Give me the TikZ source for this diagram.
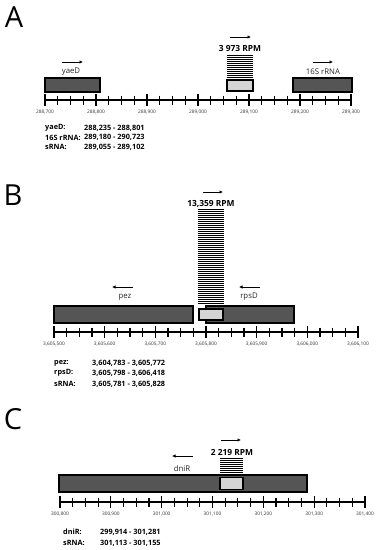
\documentclass[tikz,border=0pt]{standalone}
\usepackage{fontspec}
\setmainfont{Open Sans}
\usetikzlibrary{arrows.meta}
\definecolor{gene}{HTML}{555555}
\definecolor{srna}{HTML}{D4D4D4}
\tikzset{
  genebox/.style={draw=black,line width=1.2pt,fill=gene,inner sep=0pt},
  srnabox/.style={draw=black,line width=1.2pt,fill=srna,inner sep=0pt},
  strand/.style={-{Latex[length=3.5pt,width=3.5pt]},line width=0.9pt},
  genelabel/.style={font=\fontsize{7.8}{8}\selectfont,text=black!85,inner sep=0pt},
  rpm/.style={font=\fontsize{8.4}{9}\selectfont\bfseries,inner sep=0pt},
  ticklabel/.style={font=\fontsize{4.8}{5}\selectfont,text=black!80,inner sep=0pt},
  tabtext/.style={font=\fontsize{7.3}{8}\selectfont\bfseries,inner sep=0pt,anchor=west},
  panel/.style={font=\fontsize{29}{30}\selectfont,inner sep=0pt}
}
\newcommand{\drawaxis}[4]{% x0, x1, y, labels
  \draw[line width=2.6pt] (#1,#3) -- (#2,#3);
  \foreach \i in {0,...,24}{
    \pgfmathsetmacro{\xx}{#1+\i*(#2-#1)/24}
    \pgfmathtruncatemacro{\mj}{mod(\i,4)==0}
    \ifnum\mj=1
      \draw[line width=1.1pt] (\xx,#3-6) -- (\xx,#3+6);
    \else
      \draw[line width=1.1pt] (\xx,#3-4.5) -- (\xx,#3+4.5);
    \fi
  }
  \foreach \lab [count=\k from 0] in {#4}{
    \pgfmathsetmacro{\xl}{#1+\k*(#2-#1)/6}
    \node[ticklabel] at (\xl,#3+12) {\lab};
  }
}
\newcommand{\stripes}[4]{% x0,x1,ytop,ybottom
  \pgfmathtruncatemacro{\nstr}{(#4-#3)/2}
  \foreach \j in {0,...,\nstr}{
    \draw[line width=0.9pt] (#1,#3+2*\j) -- (#2,#3+2*\j);
  }
}
\begin{document}
\begin{tikzpicture}[x=1pt,y=-1pt]
\useasboundingbox (0,0) rectangle (378,550);
\fill[white] (0,0) rectangle (378,550);

% ---------------- Panel A ----------------
\node[panel] (pA) at (14,17) {A};
\stripes{227}{253}{55}{77}
\node[genebox,minimum width=55pt,minimum height=14pt] (yaeD) at (72.5,85) {};
\node[genebox,minimum width=59pt,minimum height=14pt] (rrna) at (322.5,85) {};
\node[srnabox,minimum width=26pt,minimum height=11pt] (sA) at (240,85.5) {};
\drawaxis{45}{351}{100}{288{,}700,288{,}800,288{,}900,289{,}000,289{,}100,289{,}200,289{,}300}
\node[genelabel] (lyaeD) at (71,72) {yaeD};
\node[genelabel] (lrrna) at (323,72) {16S rRNA};
\coordinate (ayaeD1) at (62,62); \coordinate (ayaeD2) at (83,62);
\draw[strand] (ayaeD1) -- (ayaeD2);
\coordinate (arr1) at (313,62); \coordinate (arr2) at (333,62);
\draw[strand] (arr1) -- (arr2);
\node[rpm] (rpmA) at (240,48) {3 973 RPM};
\coordinate (asA1) at (230,37); \coordinate (asA2) at (251,37);
\draw[strand] (asA1) -- (asA2);
\node[tabtext] (tA1) at (45,128) {yaeD:};
\node[tabtext] (tA2) at (45,137.5) {16S rRNA:};
\node[tabtext] (tA3) at (45,147) {sRNA:};
\node[tabtext] (vA1) at (84,128) {288,235 - 288,801};
\node[tabtext] (vA2) at (84,137.5) {289,180 - 290,723};
\node[tabtext] (vA3) at (84,147) {289,055 - 289,102};

% ---------------- Panel B ----------------
\node[panel] (pB) at (13,195) {B};
\stripes{198}{224}{209}{303}
\node[genebox,minimum width=139pt,minimum height=17pt] (pez) at (123.5,314.5) {};
\node[genebox,minimum width=88pt,minimum height=17pt] (rpsD) at (250,314.5) {};
\node[srnabox,minimum width=24pt,minimum height=11pt] (sB) at (211,314.5) {};
\drawaxis{54}{358}{332}{3{,}605{,}500,3{,}605{,}600,3{,}605{,}700,3{,}605{,}800,3{,}605{,}900,3{,}606{,}000,3{,}606{,}100}
\node[genelabel] (lpez) at (125,297) {pez};
\node[genelabel] (lrpsD) at (249,297) {rpsD};
\coordinate (apez1) at (133,287); \coordinate (apez2) at (112,287);
\draw[strand] (apez1) -- (apez2);
\coordinate (arps1) at (260,287); \coordinate (arps2) at (239,287);
\draw[strand] (arps1) -- (arps2);
\node[rpm] (rpmB) at (211,204) {13,359 RPM};
\coordinate (asB1) at (203,192); \coordinate (asB2) at (223,192);
\draw[strand] (asB1) -- (asB2);
\node[tabtext] (tB1) at (54,363) {pez:};
\node[tabtext] (tB2) at (54,373) {rpsD:};
\node[tabtext] (tB3) at (54,384) {sRNA:};
\node[tabtext] (vB1) at (92,363) {3,604,783 - 3,605,772};
\node[tabtext] (vB2) at (92,373) {3,605,798 - 3,606,418};
\node[tabtext] (vB3) at (92,384) {3,605,781 - 3,605,828};

% ---------------- Panel C ----------------
\node[panel] (pC) at (13,419) {C};
\stripes{220}{243}{458}{472}
\node[genebox,minimum width=248pt,minimum height=17pt] (dniR) at (183,483.5) {};
\node[srnabox,minimum width=23pt,minimum height=12pt] (sC) at (231.5,483.5) {};
\drawaxis{60}{365}{502}{300{,}800,300{,}900,301{,}000,301{,}100,301{,}200,301{,}300,301{,}400}
\node[genelabel] (ldniR) at (182,469) {dniR};
\coordinate (adn1) at (193,456); \coordinate (adn2) at (172,456);
\draw[strand] (adn1) -- (adn2);
\node[rpm] (rpmC) at (232,452) {2 219 RPM};
\coordinate (asC1) at (221,440); \coordinate (asC2) at (241,440);
\draw[strand] (asC1) -- (asC2);
\node[tabtext] (tC1) at (63,532) {dniR:};
\node[tabtext] (tC2) at (63,543) {sRNA:};
\node[tabtext] (vC1) at (100,532) {299,914 - 301,281};
\node[tabtext] (vC2) at (100,543) {301,113 - 301,155};
\end{tikzpicture}
\end{document}
